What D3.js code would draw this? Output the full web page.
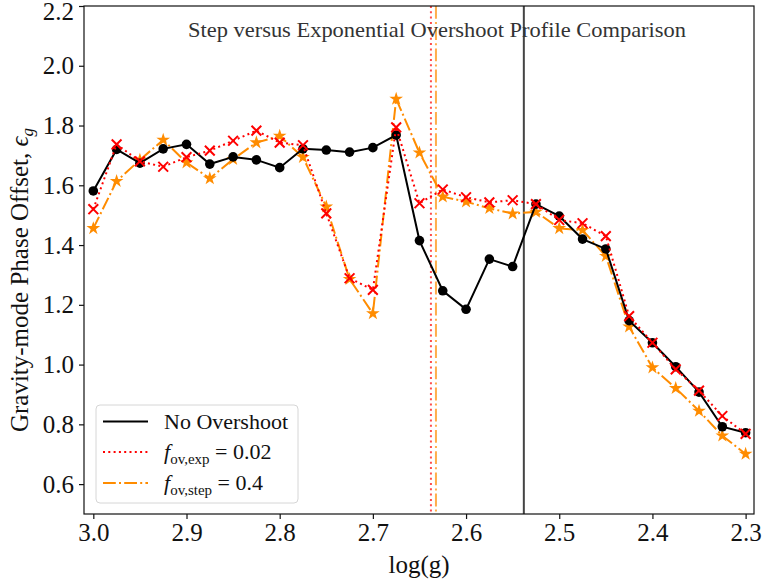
<!DOCTYPE html>
<html>
<head>
<meta charset="utf-8">
<script src="https://cdn.jsdelivr.net/npm/d3@7"></script>
<style>
  html, body { margin: 0; padding: 0; background: #fff; }
  svg { display: block; }
  svg text { font-family: "Liberation Serif", "DejaVu Serif", serif !important; }
</style>
</head>
<body>
<svg id="chart" width="763" height="586"></svg>
<script>
// log(g) grid of the models
const logg = [3.0, 2.975, 2.95, 2.925, 2.9, 2.875, 2.85, 2.825, 2.8, 2.775,
              2.75, 2.725, 2.7, 2.675, 2.65, 2.625, 2.6, 2.575, 2.55, 2.525,
              2.5, 2.475, 2.45, 2.425, 2.4, 2.375, 2.35, 2.325, 2.3];

// gravity-mode phase offset for each overshoot prescription
const noOvershoot = [1.581, 1.720, 1.674, 1.722, 1.737, 1.671, 1.695, 1.685, 1.659, 1.722,
                     1.718, 1.711, 1.726, 1.768, 1.415, 1.247, 1.185, 1.353, 1.328, 1.537,
                     1.497, 1.420, 1.387, 1.147, 1.073, 0.993, 0.908, 0.792, 0.772];
const expOvershoot = [1.520, 1.737, 1.680, 1.662, 1.694, 1.716, 1.749, 1.783, 1.743, 1.734,
                      1.506, 1.289, 1.250, 1.794, 1.540, 1.586, 1.560, 1.543, 1.550, 1.537,
                      1.484, 1.473, 1.430, 1.162, 1.073, 0.984, 0.913, 0.828, 0.768];
const stepOvershoot = [1.456, 1.614, 1.685, 1.752, 1.676, 1.623, 1.687, 1.743, 1.765, 1.694,
                       1.528, 1.286, 1.171, 1.889, 1.709, 1.562, 1.545, 1.523, 1.505, 1.511,
                       1.456, 1.450, 1.363, 1.127, 0.990, 0.921, 0.845, 0.762, 0.701];

// marked log(g) positions (vertical reference lines)
const markNoOv = 2.538;
const markExp = 2.6377;
const markStep = 2.6323;

const xTicks = [3.0, 2.9, 2.8, 2.7, 2.6, 2.5, 2.4, 2.3];
const yTicks = [0.6, 0.8, 1.0, 1.2, 1.4, 1.6, 1.8, 2.0, 2.2];

const SERIF = '"Liberation Serif", "DejaVu Serif", serif';

const svg = d3.select("#chart");
const box = { left: 84, right: 754, top: 6, bottom: 514 };

const x = d3.scaleLinear().domain([3.01, 2.291]).range([box.left, box.right]);
const y = d3.scaleLinear().domain([0.5, 2.2]).range([box.bottom, box.top]);

// vertical markers
svg.append("line")
  .attr("x1", x(markExp)).attr("x2", x(markExp))
  .attr("y1", box.top).attr("y2", box.bottom)
  .attr("stroke", "red").attr("stroke-opacity", 0.7)
  .attr("stroke-width", 2).attr("stroke-dasharray", "2,3.3");
svg.append("line")
  .attr("x1", x(markStep)).attr("x2", x(markStep))
  .attr("y1", box.top).attr("y2", box.bottom)
  .attr("stroke", "darkorange").attr("stroke-opacity", 0.7)
  .attr("stroke-width", 2).attr("stroke-dasharray", "12.8,3.2,2,3.2");
svg.append("line")
  .attr("x1", x(markNoOv)).attr("x2", x(markNoOv))
  .attr("y1", box.top).attr("y2", box.bottom)
  .attr("stroke", "#444").attr("stroke-width", 2);

// title inside the axes
svg.append("text")
  .attr("x", 437).attr("y", 37)
  .attr("text-anchor", "middle")
  .attr("font-size", 21)
  .attr("textLength", 498).attr("lengthAdjust", "spacingAndGlyphs")
  .style("fill", "#333")
  .text("Step versus Exponential Overshoot Profile Comparison");

const series = [
  { key: "step", values: stepOvershoot, color: "darkorange", dash: "12.8,3.2,2,3.2", marker: "star" },
  { key: "none", values: noOvershoot, color: "black", dash: null, marker: "circle" },
  { key: "exp", values: expOvershoot, color: "red", dash: "2,3.3", marker: "x" }
];

const line = d3.line().x(d => x(d[0])).y(d => y(d[1]));
const crossSymbol = d3.symbolTimes || d3.symbolX;

series.forEach(s => {
  const pts = logg.map((g, i) => [g, s.values[i]]);
  const g = svg.append("g").attr("class", "series-" + s.key);
  g.append("path")
    .attr("d", line(pts))
    .attr("fill", "none")
    .attr("stroke", s.color)
    .attr("stroke-width", 2)
    .attr("stroke-dasharray", s.dash);
  const m = g.selectAll(".mk").data(pts).enter();
  if (s.marker === "circle") {
    m.append("circle")
      .attr("cx", d => x(d[0])).attr("cy", d => y(d[1]))
      .attr("r", 4.8).attr("fill", "black");
  } else if (s.marker === "star") {
    m.append("path")
      .attr("transform", d => `translate(${x(d[0])},${y(d[1])})`)
      .attr("d", d3.symbol(d3.symbolStar, 58))
      .attr("fill", s.color);
  } else {
    m.append("path")
      .attr("transform", d => `translate(${x(d[0])},${y(d[1])})`)
      .attr("d", d3.symbol(crossSymbol, 64))
      .attr("fill", "none").attr("stroke", s.color).attr("stroke-width", 2);
  }
});

// axes frame
svg.append("rect")
  .attr("x", box.left).attr("y", box.top)
  .attr("width", box.right - box.left).attr("height", box.bottom - box.top)
  .attr("fill", "none").attr("stroke", "#111").attr("stroke-width", 1.2);

// x axis
const xAxis = svg.append("g")
  .attr("transform", `translate(0,${box.bottom})`)
  .call(d3.axisBottom(x).tickValues(xTicks).tickFormat(d3.format(".1f")).tickSize(5).tickPadding(4));
xAxis.attr("font-family", SERIF).attr("font-size", 25);
xAxis.select(".domain").remove();
xAxis.selectAll("text").style("fill", "#111");
xAxis.selectAll("line").attr("stroke", "#111").attr("stroke-width", 1.2);

// y axis
const yAxis = svg.append("g")
  .attr("transform", `translate(${box.left},0)`)
  .call(d3.axisLeft(y).tickValues(yTicks).tickFormat(d3.format(".1f")).tickSize(5).tickPadding(5));
yAxis.attr("font-family", SERIF).attr("font-size", 25);
yAxis.select(".domain").remove();
yAxis.selectAll("text").style("fill", "#111");
// keep the top tick label inside the canvas
yAxis.selectAll(".tick").filter(d => d === 2.2).select("text").attr("dy", "0.52em");
yAxis.selectAll("line").attr("stroke", "#111").attr("stroke-width", 1.2);

// axis titles
svg.append("text")
  .attr("x", (box.left + box.right) / 2).attr("y", 573)
  .attr("text-anchor", "middle")
  .attr("font-size", 25).style("fill", "#111")
  .text("log(g)");

const yl = svg.append("text")
  .attr("transform", "translate(28,280) rotate(-90)")
  .attr("text-anchor", "middle")
  .attr("font-size", 25).style("fill", "#111");
yl.append("tspan").text("Gravity-mode Phase Offset, ");
yl.append("tspan").attr("font-style", "italic").text("ϵ");
yl.append("tspan").attr("font-style", "italic").attr("font-size", 17).attr("dy", 5).text("g");

// legend
const lg = svg.append("g").attr("class", "legend");
lg.append("rect")
  .attr("x", 96).attr("y", 405).attr("width", 202).attr("height", 98)
  .attr("rx", 4).attr("fill", "white").attr("fill-opacity", 0.85)
  .attr("stroke", "#d6d6d6").attr("stroke-width", 1);

const legendItems = [
  { color: "black", dash: null, label: [["No Overshoot", null]] },
  { color: "red", dash: "2,3.3", label: [["f", "italic"], ["ov,exp", "sub"], [" = 0.02", "tail"]] },
  { color: "darkorange", dash: "12.8,3.2,2,3.2", label: [["f", "italic"], ["ov,step", "sub"], [" = 0.4", "tail"]] }
];
const rowY = [421.5, 452, 483];
legendItems.forEach((it, i) => {
  lg.append("line")
    .attr("x1", 103).attr("x2", 148)
    .attr("y1", rowY[i]).attr("y2", rowY[i])
    .attr("stroke", it.color).attr("stroke-width", 2)
    .attr("stroke-dasharray", it.dash);
  const t = lg.append("text").attr("x", 164).attr("y", rowY[i] + 7)
    .attr("font-size", 22).style("fill", "#111");
  it.label.forEach(([str, kind]) => {
    const sp = t.append("tspan").text(str);
    if (kind === "italic") sp.attr("font-style", "italic");
    if (kind === "sub") sp.attr("font-size", 15).attr("dy", 5);
    if (kind === "tail") sp.attr("dy", -5);
  });
});
</script>
</body>
</html>
